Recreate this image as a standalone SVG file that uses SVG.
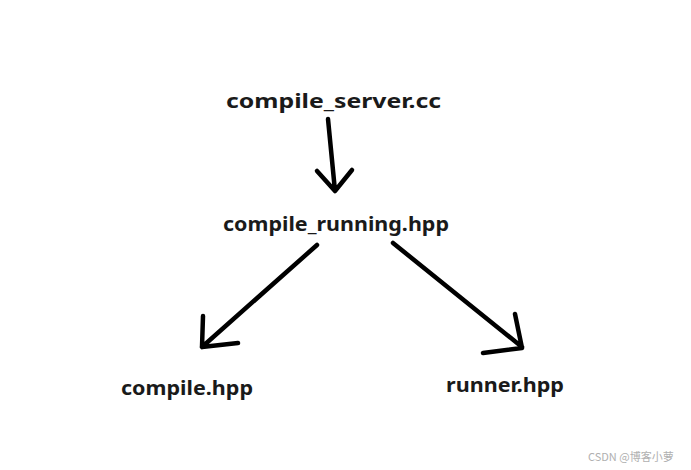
<svg xmlns="http://www.w3.org/2000/svg" width="691" height="470" viewBox="0 0 691 470">
<style>
.t{font-family:"Noto Sans","Open Sans","Liberation Sans",sans-serif;font-weight:bold;font-size:20px;fill:#1a1a1a}
.c{fill:none;stroke:#000;stroke-width:4.5;stroke-linecap:round;stroke-linejoin:round}
.w{font-family:"Noto Sans CJK SC","Noto Sans",sans-serif;font-size:11px;fill:#b0b0b0}
</style>
<rect width="691" height="470" fill="#fff"/>
<g id="n-server"><text class="t" x="226" y="108" textLength="215" lengthAdjust="spacingAndGlyphs">compile_server.cc</text></g>
<g id="n-running"><text class="t" x="223" y="231" textLength="226" lengthAdjust="spacingAndGlyphs">compile_running.hpp</text></g>
<g id="n-compile"><text class="t" x="121" y="395" textLength="132" lengthAdjust="spacingAndGlyphs">compile.hpp</text></g>
<g id="n-runner"><text class="t" x="446" y="392" textLength="118" lengthAdjust="spacingAndGlyphs">runner.hpp</text></g>
<g id="connectors">
<path class="c" d="M328 119 L335 191 M317 171 L335 191 L352 170"/>
<path class="c" d="M317 245 L202 347 M203 316 L202 347 L238 343"/>
<path class="c" d="M393 243 L522 347 M515 314 L522 348 L483 353"/>
</g>
<text class="w" x="588" y="461">CSDN @博客小萝</text>
</svg>
